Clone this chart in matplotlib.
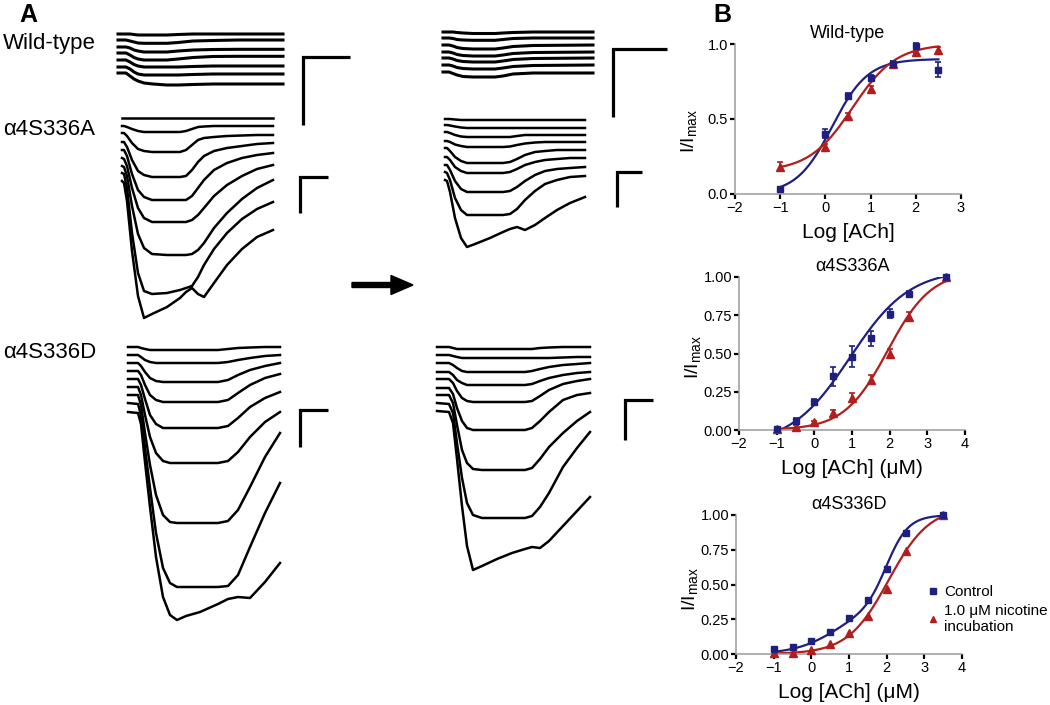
import numpy as np
import matplotlib
matplotlib.use('Agg')
import matplotlib.pyplot as plt
from matplotlib.lines import Line2D
from matplotlib.patches import FancyArrow
from matplotlib.transforms import IdentityTransform

plt.rcParams['font.family'] = ['Liberation Sans', 'DejaVu Sans']
plt.rcParams['mathtext.default'] = 'regular'
plt.rcParams['axes.unicode_minus'] = True

# ---------------------------------------------------------------- data (panel B)
log_ach_wt = [-1, 0, 0.5, 1, 1.5, 2, 2.5]
wt_ctrl = [0.03, 0.40, 0.65, 0.77, 0.87, 0.99, 0.83]
wt_ctrl_err = [0.01, 0.03, 0.02, 0.02, 0.02, 0.02, 0.05]
wt_nic = [0.18, 0.31, 0.52, 0.70, 0.87, 0.95, 0.96]
wt_nic_err = [0.03, 0.02, 0.02, 0.02, 0.02, 0.01, 0.02]

log_ach = [-1, -0.5, 0, 0.5, 1, 1.5, 2, 2.5, 3.5]
s336a_ctrl = [0.005, 0.06, 0.185, 0.35, 0.48, 0.60, 0.76, 0.89, 1.0]
s336a_ctrl_err = [0.01, 0.02, 0.02, 0.06, 0.07, 0.05, 0.03, 0.02, 0.0]
s336a_nic = [0.005, 0.02, 0.05, 0.11, 0.21, 0.33, 0.50, 0.74, 1.0]
s336a_nic_err = [0.005, 0.01, 0.01, 0.02, 0.03, 0.03, 0.03, 0.03, 0.0]
s336d_ctrl = [0.035, 0.05, 0.095, 0.16, 0.26, 0.39, 0.61, 0.87, 1.0]
s336d_nic = [0.01, 0.005, 0.03, 0.07, 0.15, 0.27, 0.47, 0.74, 1.0]

# Hill fit parameters (bottom, top, logEC50, nH)
wt_ctrl_fit = (0.0, 0.90, 0.15, 1.1)
wt_nic_fit = (0.15, 1.0, 0.6, 0.9)
s336a_ctrl_fit = (-0.1, 1.05, 0.95, 0.55)
s336a_nic_fit = (0.0, 1.04, 1.95, 0.75)
s336d_ctrl_fit2 = (0.32, 0.6, 0.8, 0.68, 2.0, 1.5)   # two-site fit
s336d_nic_fit = (0.0, 1.06, 2.05, 0.8)

# ---------------------------------------------------------------- data (panel A)
# time (sweep units) and current depth below each trace's own baseline
wt_ctrl_t = [0, 8, 12, 16, 20, 26, 35, 49, 60, 75, 95, 120, 145, 165]
wt_ctrl_I = [
    [0, 0, 0, 0.5, 1, 1, 1, 1, 0.5, 0, 0, 0, 0, 0],
    [0, 0, 1, 2, 3, 3.3, 3.3, 3.3, 2.5, 1, 0.5, 0, 0, 0],
    [0, 0, 1, 3, 4, 5, 5, 5, 4, 3, 2.5, 2.3, 2.3, 2.3],
    [0, 0, 2, 4.5, 6, 7, 7, 7, 6, 4.5, 3.5, 3.3, 3.3, 3.3],
    [0, 0, 2, 4.5, 6, 7, 7, 7, 7, 6.5, 6, 6, 6, 6],
    [0, 0, 2, 5, 7, 8, 8, 8, 8, 7.5, 7, 7, 7, 7],
    [0, 0, 3, 6, 8, 10, 11, 12, 12, 11.5, 11, 11, 11, 11],
]
wt_ctrl_base = [0, 6, 13, 19, 26, 33, 39]

wt_nic_t = [0, 6, 10, 14, 20, 30, 45, 52, 60, 70, 90, 150]
wt_nic_I = [
    [0, 0, 0, 0.5, 1, 1.5, 1.5, 1.5, 1, 0.5, 0, 0],
    [0, 0, 0.5, 1.5, 2, 2.3, 2.3, 2.3, 1.5, 0.5, 0, 0],
    [0, 0, 1, 2.5, 3.5, 4, 4, 4, 3, 1.5, 0.5, 0],
    [0, 0, 1, 2.5, 3.5, 4, 4, 4, 3, 1.5, 0.5, 0],
    [0, 0, 1, 2.5, 3.5, 4, 4, 4, 3, 1.5, 0.5, 0],
    [0, 0, 1, 2.5, 3.5, 4, 4, 4, 3, 1.5, 0.5, 0],
    [0, 0, 1.5, 3, 4.5, 5, 5, 5, 4, 2, 1, 1],
]
wt_nic_base = [0, 6, 13, 20, 26, 33, 40]

s336a_ctrl_t = [0, 2, 5, 10, 16, 22, 30, 45, 58, 64, 70, 76, 82, 92, 105, 120, 135, 151]
s336a_ctrl_I = [
    [0, 0, 0, 0, 0, 0, 0, 0, 0, 0, 0, 0, 0, 0, 0, 0, 0, 0],
    [0, 0, 1, 3, 5, 6, 6, 6, 6, 5, 3, 1, 0.5, 0, 0, 0, 0, 0],
    [0, 0, 3, 10, 16, 18, 19, 19, 19, 17, 12, 7, 5, 4, 3, 2.5, 2, 2],
    [0, 0, 5, 18, 29, 33, 35, 35, 35, 34, 28, 20, 14, 9, 6, 4, 2, 1],
    [0, 0, 6, 24, 40, 47, 50, 50, 50, 50, 46, 38, 30, 20, 13, 8, 5, 3],
    [0, 1, 8, 30, 50, 60, 64, 64, 64, 64, 62, 57, 50, 38, 27, 18, 11, 7],
    [0, 1, 10, 40, 68, 82, 88, 89, 89, 89, 88, 84, 77, 62, 47, 33, 22, 14],
    [0, 1, 15, 60, 100, 118, 121, 120, 117, 115, 113, 104, 92, 76, 60, 46, 36, 29],
    [0, 2, 20, 70, 115, 137, 133, 126, 117, 111, 107, 113, 116, 102, 84, 68, 56, 49],
]
s336a_ctrl_base = [0, 8, 15, 24, 32, 40, 48, 55, 63]

s336a_nic_t = [0, 2, 5, 10, 16, 22, 30, 45, 58, 65, 72, 80, 90, 100, 112, 125, 140]
s336a_nic_I = [
    [0, 0, 0, 0.5, 1, 1, 1, 1, 1, 1, 1, 1, 1, 1, 1, 1, 1],
    [0, 0, 0.5, 1.5, 2.5, 3, 3, 3, 3, 3, 3, 3, 3, 3, 3, 3, 3],
    [0, 0, 1, 3, 4.5, 5, 5, 5, 5, 5, 4, 3, 3, 3, 3, 3, 3],
    [0, 0, 1, 3.5, 5, 6, 6, 6, 6, 5.5, 4, 2.5, 1.5, 1, 1, 1, 1],
    [0, 0, 3, 9, 13, 15, 15, 15, 15, 14, 11, 7, 4, 3, 2, 2, 2],
    [0, 0, 3, 10, 14, 16, 16, 16, 16, 15, 12, 8, 5, 3, 2, 1, 1],
    [0, 0, 5, 16, 24, 27, 27, 27, 27, 26, 22, 16, 10, 6, 4, 3, 2],
    [0, 1, 8, 26, 38, 43, 43, 43, 43, 42, 37, 28, 19, 12, 8, 5, 4],
    [0, 1, 12, 38, 58, 67, 64, 58, 52, 49, 47, 50, 45, 38, 30, 23, 17],
]
s336a_nic_base = [0, 6, 13, 22, 29, 38, 46, 53, 61]

s336d_ctrl_t = [0, 10, 13, 17, 22, 28, 35, 42, 49, 58, 72, 90, 100, 110, 122, 137, 152]
s336d_ctrl_I = [
    [0, 0, 1, 2, 3, 3, 3, 3, 3, 3, 3, 3, 2, 1, 0.5, 0, 0],
    [0, 0, 2, 5, 7, 8, 8, 8, 8, 8, 8, 8, 7, 5, 3, 1, 0],
    [0, 0, 3, 9, 15, 18, 19, 19, 19, 19, 19, 19, 17, 12, 7, 3, 0],
    [0, 0, 4, 14, 24, 29, 31, 31, 31, 31, 31, 31, 29, 22, 14, 7, 3],
    [0, 0, 6, 20, 36, 45, 49, 49, 49, 49, 49, 49, 47, 39, 28, 19, 13],
    [0, 0, 8, 28, 50, 66, 74, 76, 76, 76, 76, 76, 74, 65, 50, 35, 25],
    [0, 0, 10, 38, 70, 100, 120, 127, 128, 128, 128, 128, 126, 115, 92, 62, 38],
    [0, 1, 12, 45, 85, 130, 165, 180, 184, 184, 184, 184, 183, 172, 144, 110, 80],
    [0, 1, 12, 50, 95, 145, 185, 203, 208, 204, 200, 192, 187, 185, 186, 170, 151],
]
s336d_ctrl_base = [0, 8, 16, 24, 32, 40, 48, 56, 65]

s336d_nic_t = [0, 12, 16, 20, 25, 30, 36, 45, 60, 75, 88, 95, 103, 112, 126, 140, 153]
s336d_nic_I = [
    [0, 0, 1, 2, 2, 2, 2, 2, 2, 2, 2, 2, 1, 0.5, 0, 0, 0],
    [0, 0, 1, 2, 3, 3, 3, 3, 3, 3, 3, 3, 3, 3, 2.5, 2, 2],
    [0, 0, 2, 5, 8, 9, 9, 9, 9, 9, 9, 8, 6, 4, 2, 1, 0],
    [0, 0, 3, 8, 11, 13, 13, 13, 13, 13, 13, 12, 9, 6, 3, 1, 0],
    [0, 0, 4, 12, 19, 22, 23, 23, 23, 23, 23, 22, 17, 11, 5, 2, 0],
    [0, 0, 6, 20, 33, 40, 42, 42, 42, 42, 42, 40, 33, 24, 12, 7, 5],
    [0, 0, 8, 30, 55, 68, 74, 75, 75, 75, 75, 73, 64, 52, 38, 26, 17],
    [0, 1, 10, 40, 75, 100, 112, 115, 115, 115, 115, 113, 104, 90, 64, 45, 29],
    [0, 1, 12, 48, 95, 135, 159, 155, 148, 142, 138, 136, 137, 130, 115, 100, 86],
]
s336d_nic_base = [0, 8, 16, 25, 32, 41, 48, 56, 64]

row_labels = ['Wild-type', 'α4S336A', 'α4S336D']

# ---------------------------------------------------------------- figure
W, H = 1050, 705
fig = plt.figure(figsize=(W / 100, H / 100), dpi=100)
BLUE = '#1f1f80'
RED = '#b01e1e'


def fx(x):
    return x / W


def fy(y):
    return 1 - y / H


def trace_group(x0, y0, t, curr, base, lw=1.8):
    width = t[-1]
    hmax = max(b + max(c) for b, c in zip(base, curr)) + 5
    ax = fig.add_axes([fx(x0), fy(y0 + hmax), width / W, (hmax + 5) / H])
    ax.set_xlim(0, width)
    ax.set_ylim(-hmax, 5)
    ax.axis('off')
    for b, c in zip(base, curr):
        ax.plot(t, -(b + np.asarray(c, dtype=float)), color='black', lw=lw,
                solid_joinstyle='round', clip_on=False)
    return ax


def scale_bar(xc, yc, xr, yb):
    fig.add_artist(Line2D([fx(xr), fx(xc), fx(xc)], [fy(yc), fy(yc), fy(yb)],
                          transform=fig.transFigure, color='black', lw=2.3,
                          solid_capstyle='butt', solid_joinstyle='miter'))


trace_group(118, 34, wt_ctrl_t, wt_ctrl_I, wt_ctrl_base, lw=2.2)
trace_group(443, 32, wt_nic_t, wt_nic_I, wt_nic_base, lw=2.2)
trace_group(122, 118, s336a_ctrl_t, s336a_ctrl_I, s336a_ctrl_base)
trace_group(445, 119, s336a_nic_t, s336a_nic_I, s336a_nic_base)
trace_group(128, 347, s336d_ctrl_t, s336d_ctrl_I, s336d_ctrl_base)
trace_group(437, 347, s336d_nic_t, s336d_nic_I, s336d_nic_base)

scale_bar(303, 57, 350, 125)
scale_bar(300, 177, 328, 213)
scale_bar(300, 410, 328, 447)
scale_bar(613, 49, 667, 117)
scale_bar(617, 172, 642, 207)
scale_bar(625, 400, 653, 440)

fig.add_artist(FancyArrow(352, H - 285, 39, 0, width=5, head_width=19,
                          head_length=22, length_includes_head=False,
                          color='black', transform=IdentityTransform()))

fig.text(fx(28), fy(15), 'A', ha='center', va='center', fontsize=18, weight='bold')
fig.text(fx(722), fy(15), 'B', ha='center', va='center', fontsize=18, weight='bold')
fig.text(fx(3), fy(49), row_labels[0], ha='left', va='baseline', fontsize=16)
fig.text(fx(3), fy(135), row_labels[1], ha='left', va='baseline', fontsize=16)
fig.text(fx(3), fy(358), row_labels[2], ha='left', va='baseline', fontsize=16)


# ---------------------------------------------------------------- panel B
def hill(x, bottom, top, logec, n):
    return bottom + (top - bottom) / (1 + 10 ** ((logec - x) * n))


def style_b(ax, xlim, xticks, yticks, yfmt, title, xlabel, ylab_y):
    ax.set_xlim(*xlim)
    ax.set_ylim(0, 1)
    ax.set_xticks(xticks)
    ax.set_yticks(yticks)
    ax.set_yticklabels([yfmt.format(v) for v in yticks])
    for s in ['top', 'right']:
        ax.spines[s].set_visible(False)
    for s in ['left', 'bottom']:
        ax.spines[s].set_color('#9a9a9a')
        ax.spines[s].set_linewidth(1.1)
    ax.tick_params(direction='out', length=3.5, width=1.6, color='black',
                   labelsize=10.5, pad=1.5)
    ax.patch.set_alpha(0)
    ax.set_title(title, fontsize=13, pad=4)
    ax.set_xlabel(xlabel, fontsize=15, labelpad=6)
    ax.text(-0.205, ylab_y, 'I/I$_{max}$', transform=ax.transAxes, rotation=90,
            ha='center', va='center', fontsize=14)


def draw_series(ax, x, y, err, color, marker, ms):
    if err is not None:
        ax.errorbar(x, y, yerr=err, fmt='none', ecolor=color, elinewidth=1.2,
                    capsize=2.5, capthick=1.2, clip_on=False, zorder=3)
    ax.plot(x, y, linestyle='none', marker=marker, color=color, ms=ms,
            clip_on=False, zorder=4)


# top: wild-type
ax1 = fig.add_axes([fx(735), fy(194), 226 / W, 150 / H])
xs = np.linspace(-1, 2.5, 200)
ax1.plot(xs, hill(xs, *wt_ctrl_fit), color=BLUE, lw=1.6, zorder=2)
ax1.plot(xs, hill(xs, *wt_nic_fit), color=RED, lw=1.6, zorder=2)
draw_series(ax1, log_ach_wt, wt_nic, wt_nic_err, RED, '^', 5.5)
draw_series(ax1, log_ach_wt, wt_ctrl, wt_ctrl_err, BLUE, 's', 5)
style_b(ax1, (-2, 3), [-2, -1, 0, 1, 2, 3], [0, 0.5, 1.0], '{:.1f}',
        'Wild-type', 'Log [ACh]', 0.42)

# middle: a4S336A
ax2 = fig.add_axes([fx(739), fy(430), 226 / W, 153 / H])
xs = np.linspace(-1, 3.5, 200)
ax2.plot(xs, hill(xs, *s336a_ctrl_fit), color=BLUE, lw=1.6, zorder=2)
ax2.plot(xs, hill(xs, *s336a_nic_fit), color=RED, lw=1.6, zorder=2)
draw_series(ax2, log_ach, s336a_nic, s336a_nic_err, RED, '^', 5.5)
draw_series(ax2, log_ach, s336a_ctrl, s336a_ctrl_err, BLUE, 's', 5)
style_b(ax2, (-2, 4), [-2, -1, 0, 1, 2, 3, 4], [0, 0.25, 0.5, 0.75, 1.0], '{:.2f}',
        'α4S336A', 'Log [ACh] (μM)', 0.48)

# bottom: a4S336D
ax3 = fig.add_axes([fx(736), fy(654), 226 / W, 139 / H])
a1, e1, n1, a2, e2, n2 = s336d_ctrl_fit2
ax3.plot(xs, hill(xs, 0, a1, e1, n1) + hill(xs, 0, a2, e2, n2), color=BLUE, lw=1.6, zorder=2)
ax3.plot(xs, hill(xs, *s336d_nic_fit), color=RED, lw=1.6, zorder=2)
draw_series(ax3, log_ach, s336d_nic, None, RED, '^', 5.5)
draw_series(ax3, log_ach, s336d_ctrl, None, BLUE, 's', 5)
style_b(ax3, (-2, 4), [-2, -1, 0, 1, 2, 3, 4], [0, 0.25, 0.5, 0.75, 1.0], '{:.2f}',
        'α4S336D', 'Log [ACh] (μM)', 0.47)

handles = [Line2D([], [], linestyle='none', marker='s', color=BLUE, ms=5),
           Line2D([], [], linestyle='none', marker='^', color=RED, ms=5)]
fig.legend(handles, ['Control', '1.0 μM nicotine\nincubation'],
           loc='upper left', bbox_to_anchor=(fx(928), fy(585)), frameon=False,
           fontsize=11, handlelength=0.7, handletextpad=0.35, borderpad=0,
           borderaxespad=0, labelspacing=0.3)

fig.savefig('out.png', dpi=100)
